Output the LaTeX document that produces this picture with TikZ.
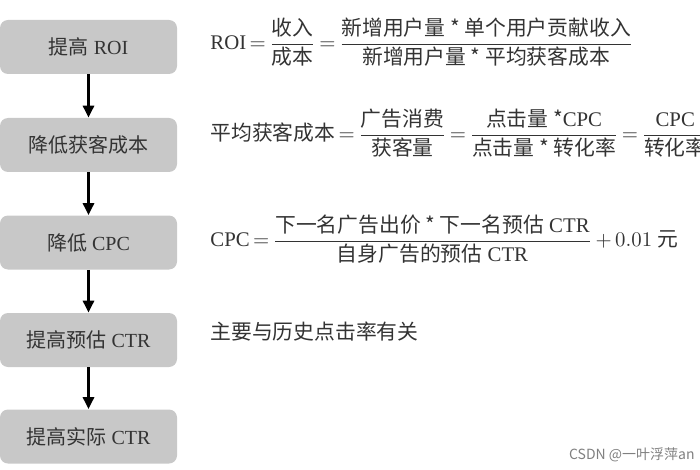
\documentclass[tikz,border=0pt]{standalone}
\usepackage{amsmath}
\usepackage{fontspec}
\setmainfont{Liberation Serif}
\newfontfamily\cjk{Noto Sans CJK SC}
\usetikzlibrary{arrows.meta}
\definecolor{boxgray}{HTML}{C8C8C8}
\definecolor{inkgray}{HTML}{333333}
\newcommand{\hz}[1]{\text{\cjk #1}}
\thickmuskip=3mu plus 1mu
\medmuskip=3mu plus 1mu
\tikzset{
	stepbox/.style={
		rectangle,
		rounded corners=4pt,
		fill=boxgray,
		text=inkgray,
		minimum width=88.5pt,
		minimum height=27pt,
		inner sep=0pt
	},
	flow/.style={
		line width=1.5pt,
		-{Triangle[width=5.5pt,length=6pt]}
	},
	formula/.style={
		anchor=west,
		inner sep=0pt,
		text=inkgray,
		scale=1.04
	}
}

\begin{document}
\begin{tikzpicture}[x=0.5pt, y=-0.5pt]
		\useasboundingbox (0,0) rectangle (700,470);
		\node[stepbox] (roi) at (88.5,47) {{\cjk 提高} ROI};
		\node[stepbox] (cost) at (88.5,145) {\cjk 降低获客成本};
		\node[stepbox] (cpc) at (88.5,242.5) {{\cjk 降低} CPC};
		\node[stepbox] (pctr) at (88.5,340) {{\cjk 提高预估} CTR};
		\node[stepbox] (actr) at (88.5,436.5) {{\cjk 提高实际} CTR};
		\draw[flow] (roi) -- (cost);
		\draw[flow] (cost) -- (cpc);
		\draw[flow] (cpc) -- (pctr);
		\draw[flow] (pctr) -- (actr);
		
		\node[formula] (froi) at (210,42) {$\text{ROI} = \dfrac{\hz{收入}}{\hz{成本}} = \dfrac{\hz{新增用户量 * 单个用户贡献收入}}{\hz{新增用户量 * 平均获客成本}}$};
		\node[formula] (fcost) at (210,133) {$\hz{平均获客成本} = \dfrac{\hz{广告消费}}{\hz{获客量}} = \dfrac{\hz{点击量 *}\text{CPC}}{\hz{点击量 * 转化率}} = \dfrac{\text{CPC}}{\hz{转化率}}$};
		\node[formula] (fcpc) at (210,239) {$\text{CPC} = \dfrac{\hz{下一名广告出价 * 下一名预估} \text{ CTR}}{\hz{自身广告的预估} \text{ CTR}} + 0.01\text{ \cjk 元}$};
		\node[formula] (note) at (210,332) {\cjk 主要与历史点击率有关};
		
		\node[anchor=east, inner sep=0pt, text=gray, font=\fontsize{7}{8}\selectfont\cjk] (mark) at (695,455) {CSDN @一叶浮萍an};
\end{tikzpicture}
\end{document}
